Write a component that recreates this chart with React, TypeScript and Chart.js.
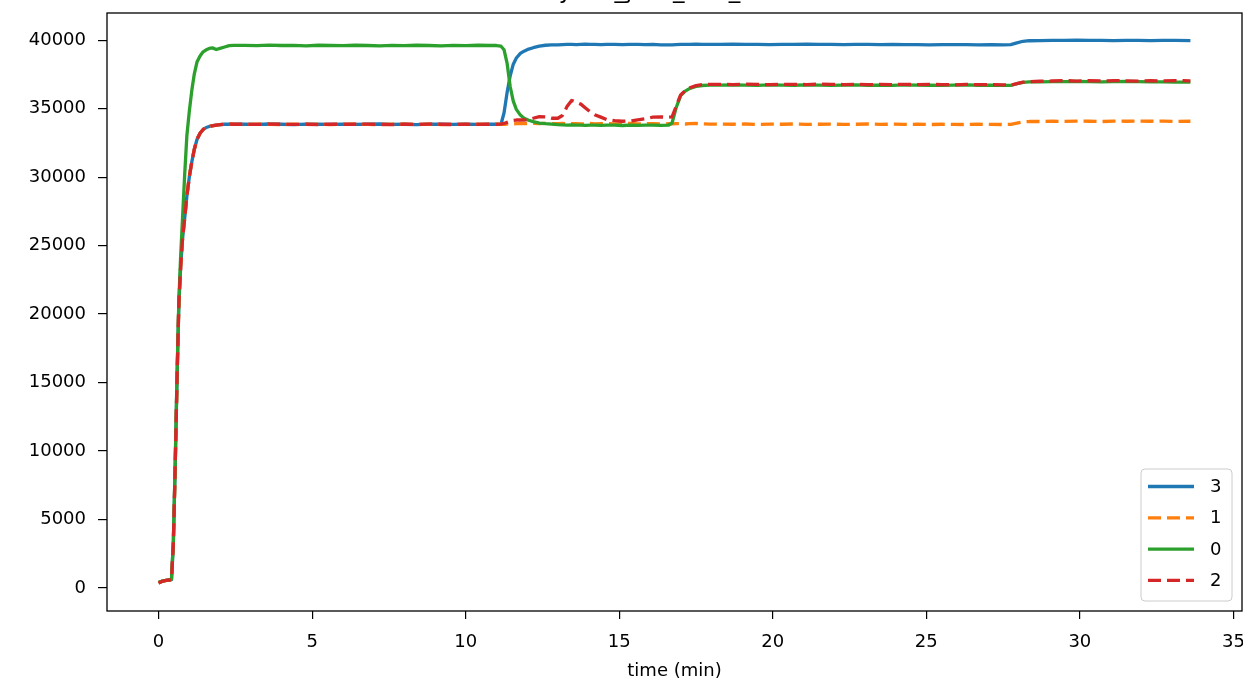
import React, { useEffect, useRef } from "react";
import { Chart, registerables } from "chart.js";

Chart.register(...registerables);

const W = 1243;
const H = 682;
const OFF = 40;

const TITLE = "Eyries_jobs_test_totals";
const X_LABEL = "time (min)";
const X_TICKS = [0, 5, 10, 15, 20, 25, 30, 35];
const Y_TICKS = [0, 5000, 10000, 15000, 20000, 25000, 30000, 35000, 40000];
const LABELS = ["3", "1", "0", "2"];
const COLORS = ["#1f77b4", "#ff7f0e", "#2ca02c", "#d62728"];

const TIME = [
  0, 0.1, 0.2, 0.3, 0.42, 0.48, 0.54, 0.6, 0.66, 0.72, 0.78, 0.85, 0.92, 1.0, 1.08, 1.16, 1.25, 1.35, 1.45, 1.55, 1.65, 1.75, 1.88, 2.0, 2.15, 2.3, 2.45,
  2.8, 3.2, 3.6, 4.0, 4.4, 4.8, 5.2, 5.6, 6.0, 6.4, 6.8, 7.2, 7.6, 8.0, 8.4, 8.8, 9.2, 9.6, 10.0, 10.4, 10.8,
  11.0, 11.15, 11.25, 11.35, 11.45, 11.55, 11.65, 11.78, 11.9, 12.05, 12.2, 12.4, 12.6, 12.8,
  13.0, 13.15, 13.3, 13.45, 13.6, 13.75, 13.9, 14.05, 14.2, 14.4, 14.6, 14.85, 15.1, 15.35, 15.6, 15.85, 16.1, 16.35, 16.6,
  16.72, 16.85, 17.0, 17.15, 17.3, 17.5, 17.7, 17.95,
  18.3, 18.7, 19.1, 19.5, 19.9, 20.3, 20.7, 21.1, 21.5, 21.9, 22.3, 22.7, 23.1, 23.5, 23.9, 24.3, 24.7, 25.1, 25.5, 25.9, 26.3, 26.7, 27.1, 27.5,
  27.75, 27.95, 28.15, 28.35,
  28.7, 29.1, 29.5, 29.9, 30.3, 30.7, 31.1, 31.5, 31.9, 32.3, 32.7, 33.1, 33.6,
];

// series "3" (blue)
const S3 = [
  360, 475, 530, 565, 605, 3250, 8850, 15200, 20800, 23500, 25500, 27000, 28600, 30000, 31100, 32000, 32750, 33200, 33480, 33620, 33700, 33760, 33800, 33830, 33860, 33870, 33860,
  33860, 33850, 33880, 33860, 33840, 33870, 33860, 33850, 33870, 33850, 33860, 33880, 33850, 33860, 33840, 33870, 33860, 33850, 33870, 33850, 33860,
  33860, 33860, 34700, 36200, 37400, 38250, 38700, 39030, 39200, 39350, 39450, 39560, 39630, 39660,
  39660, 39680, 39700, 39690, 39680, 39700, 39710, 39690, 39700, 39680, 39700, 39690, 39670, 39690, 39700, 39680, 39690, 39660, 39650,
  39660, 39680, 39700, 39690, 39700, 39710, 39690, 39700,
  39700, 39710, 39690, 39700, 39680, 39700, 39690, 39710, 39690, 39700, 39680, 39690, 39700, 39680, 39690, 39670, 39680, 39660, 39680, 39670, 39680, 39660, 39670, 39660,
  39670, 39800, 39920, 39960,
  39970, 39990, 39980, 40000, 39980, 39990, 39970, 39990, 39980, 39970, 39990, 39980, 39970,
];

// series "1" (orange)
const S1 = [
  355, 470, 535, 560, 600, 3250, 8800, 15150, 20750, 23450, 25500, 27000, 28600, 30050, 31100, 32000, 32780, 33200, 33480, 33620, 33710, 33750, 33800, 33840, 33850, 33880, 33860,
  33850, 33870, 33860, 33840, 33860, 33850, 33870, 33840, 33860, 33870, 33850, 33840, 33860, 33870, 33850, 33860, 33840, 33860, 33850, 33870, 33850,
  33860, 33870, 33860, 33880, 33900, 33880, 33900, 33920, 33900, 33910, 33930, 33900, 33920, 33900,
  33900, 33920, 33890, 33910, 33900, 33880, 33900, 33920, 33890, 33900, 33910, 33880, 33900, 33920, 33890, 33900, 33910, 33880, 33900,
  33890, 33910, 33900, 33880, 33900, 33920, 33890, 33870,
  33870, 33860, 33880, 33850, 33870, 33860, 33880, 33850, 33860, 33870, 33850, 33860, 33880, 33850, 33870, 33850, 33860, 33840, 33860, 33850, 33840, 33860, 33850, 33840,
  33850, 33950, 34030, 34060,
  34060, 34080, 34070, 34090, 34080, 34060, 34090, 34080, 34100, 34080, 34090, 34070, 34080,
];

// series "0" (green)
const S0 = [
  420, 490, 540, 570, 620, 3300, 9000, 15500, 21000, 24300, 27000, 30200, 33000, 34800, 36300, 37500, 38400, 38850, 39150, 39300, 39400, 39440, 39320, 39400, 39500, 39600, 39620,
  39620, 39600, 39640, 39610, 39620, 39590, 39630, 39610, 39600, 39630, 39610, 39590, 39620, 39600, 39630, 39610, 39590, 39620, 39600, 39630, 39610,
  39610, 39560, 39300, 38300, 36600, 35550, 34950, 34530, 34300, 34150, 34050, 33950, 33900, 33870,
  33830, 33820, 33800, 33810, 33790, 33800, 33780, 33800, 33790, 33780, 33800, 33790, 33770, 33790, 33780, 33800, 33790, 33780, 33790,
  33950, 35050, 35950, 36280, 36480, 36620, 36690, 36720,
  36720, 36740, 36720, 36700, 36730, 36720, 36710, 36740, 36720, 36700, 36720, 36730, 36710, 36720, 36700, 36730, 36720, 36710, 36700, 36720, 36730, 36710, 36720, 36700,
  36700, 36820, 36920, 36950,
  36960, 36980, 36970, 36990, 36980, 36960, 36970, 36990, 36970, 36950, 36960, 36940, 36930,
];

// series "2" (red)
const S2 = [
  350, 470, 530, 565, 600, 3200, 8800, 15200, 20800, 23500, 25500, 27000, 28600, 30000, 31100, 32000, 32750, 33200, 33480, 33620, 33700, 33750, 33800, 33830, 33860, 33870, 33860,
  33860, 33850, 33870, 33860, 33850, 33860, 33840, 33870, 33850, 33860, 33870, 33850, 33840, 33860, 33850, 33870, 33860, 33840, 33860, 33850, 33860,
  33850, 33870, 33920, 34000, 34080, 34140, 34170, 34180, 34170, 34200, 34300, 34420, 34400, 34300,
  34300, 34500, 35150, 35600, 35480, 35330, 35050, 34780, 34560, 34380, 34200, 34120, 34080, 34100, 34180, 34260, 34380, 34400, 34370,
  34400, 35150, 36000, 36330, 36530, 36680, 36760, 36780,
  36780, 36760, 36790, 36770, 36750, 36780, 36770, 36760, 36790, 36770, 36760, 36780, 36750, 36770, 36760, 36780, 36750, 36770, 36760, 36740, 36770, 36750, 36760, 36740,
  36720, 36830, 36930, 36970,
  37000, 37020, 37050, 37010, 37040, 37020, 37050, 37030, 37010, 37040, 37020, 37050, 37030,
];

const SERIES = [S3, S1, S0, S2];
const DASHED = [false, true, false, true];

const FONT_FAMILY = "'DejaVu Sans', 'Liberation Sans', sans-serif";
const LW = 3.3;
const DASH = [13, 6];

export default function App() {
  const ref = useRef<HTMLCanvasElement>(null);

  useEffect(() => {
    const canvas = ref.current;
    if (!canvas) return;
    const font = { family: FONT_FAMILY, size: 18 };

    const datasets = SERIES.map((s, i) => ({
      label: LABELS[i],
      data: TIME.map((t, j) => ({ x: t, y: s[j] })),
      borderColor: COLORS[i],
      backgroundColor: COLORS[i],
      borderWidth: LW,
      borderDash: DASHED[i] ? DASH : [],
      borderCapStyle: "butt" as const,
      borderJoinStyle: "round" as const,
      pointRadius: 0,
      tension: 0,
      fill: false,
      order: 3 - i,
    }));

    const deco = {
      id: "deco",
      afterDraw(chart: any) {
        const { ctx, chartArea } = chart;
        const { left, right, top, bottom } = chartArea;
        ctx.save();
        // frame
        ctx.strokeStyle = "#000";
        ctx.lineWidth = 1.3;
        ctx.setLineDash([]);
        ctx.strokeRect(left, top, right - left, bottom - top);
        // title (mostly clipped above the page)
        ctx.fillStyle = "#000";
        ctx.font = `23px ${FONT_FAMILY}`;
        ctx.textAlign = "center";
        ctx.textBaseline = "alphabetic";
        ctx.fillText(TITLE, (left + right) / 2, OFF - 2);
        // legend
        const bw = 91;
        const bh = 132;
        const bx = right - 10 - bw;
        const by = bottom - 10 - bh;
        ctx.beginPath();
        if ((ctx as any).roundRect) {
          (ctx as any).roundRect(bx, by, bw, bh, 4);
        } else {
          ctx.rect(bx, by, bw, bh);
        }
        ctx.fillStyle = "rgba(255,255,255,0.8)";
        ctx.fill();
        ctx.strokeStyle = "#cccccc";
        ctx.lineWidth = 1;
        ctx.stroke();
        ctx.font = `18px ${FONT_FAMILY}`;
        ctx.textAlign = "left";
        ctx.textBaseline = "middle";
        for (let i = 0; i < LABELS.length; i++) {
          const yy = by + 17.5 + i * 31.3;
          ctx.beginPath();
          ctx.strokeStyle = COLORS[i];
          ctx.lineWidth = LW;
          ctx.lineCap = "butt";
          ctx.setLineDash(DASHED[i] ? DASH : []);
          ctx.moveTo(bx + 7, yy);
          ctx.lineTo(bx + 53, yy);
          ctx.stroke();
          ctx.setLineDash([]);
          ctx.fillStyle = "#000";
          ctx.fillText(LABELS[i], bx + 69, yy + 1);
        }
        ctx.restore();
      },
    };

    const chart = new Chart(canvas, {
      type: "line",
      data: { datasets },
      options: {
        animation: false,
        responsive: false,
        devicePixelRatio: 1,
        layout: { padding: { top: OFF + 13, right: 1, left: 0, bottom: 0 } },
        plugins: {
          legend: { display: false },
          title: { display: false },
          tooltip: { enabled: false },
        },
        scales: {
          x: {
            type: "linear",
            min: -1.68,
            max: 35.28,
            afterBuildTicks: (s: any) => {
              s.ticks = X_TICKS.map((v) => ({ value: v }));
            },
            afterFit: (s: any) => {
              s.height = 71;
              s.paddingLeft = 0;
              s.paddingRight = 0;
            },
            ticks: {
              font,
              color: "#000",
              padding: 13,
              maxRotation: 0,
              autoSkip: false,
              callback: (v: any) => String(v),
            },
            grid: {
              display: true,
              drawOnChartArea: false,
              drawTicks: true,
              tickLength: 8,
              color: "#000",
              lineWidth: 1.2,
            },
            border: { display: false },
            title: {
              display: true,
              text: X_LABEL,
              font,
              color: "#000",
              padding: { top: 0, bottom: 0 },
            },
          },
          y: {
            type: "linear",
            min: -1685,
            max: 41985,
            afterBuildTicks: (s: any) => {
              s.ticks = Y_TICKS.map((v) => ({ value: v }));
            },
            afterFit: (s: any) => {
              s.width = 107;
              s.paddingTop = 0;
              s.paddingBottom = 0;
            },
            ticks: {
              font,
              color: "#000",
              padding: 12,
              autoSkip: false,
              callback: (v: any) => String(v),
            },
            grid: {
              display: true,
              drawOnChartArea: false,
              drawTicks: true,
              tickLength: 9,
              color: "#000",
              lineWidth: 1.2,
            },
            border: { display: false },
          },
        },
      },
      plugins: [deco],
    } as any);

    return () => chart.destroy();
  }, []);

  return (
    <div
      style={{
        position: "fixed",
        left: 0,
        top: 0,
        width: W,
        height: H,
        overflow: "hidden",
        background: "#fff",
      }}
    >
      <canvas
        ref={ref}
        width={W}
        height={H + OFF}
        style={{ position: "absolute", left: 0, top: -OFF, width: W, height: H + OFF }}
      />
    </div>
  );
}
